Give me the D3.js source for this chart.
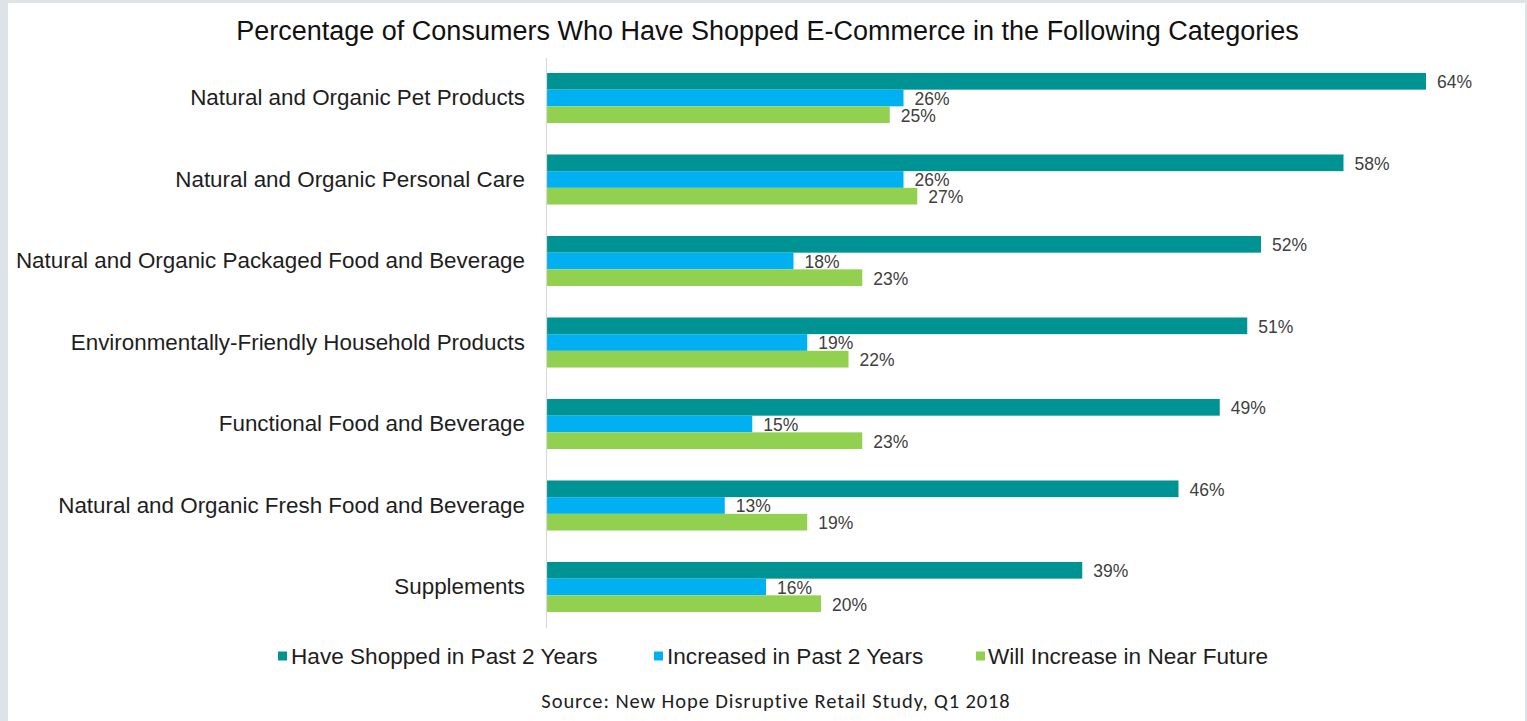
<!DOCTYPE html>
<html>
<head>
<meta charset="utf-8">
<script src="https://cdn.jsdelivr.net/npm/d3@7"></script>
<style>
  html, body { margin: 0; padding: 0; background: #dde3e7; }
  svg { display: block; }
</style>
</head>
<body>
<svg id="chart" width="1527" height="721"></svg>
<script>
// Survey categories, top to bottom
const categories = [
  "Natural and Organic Pet Products",
  "Natural and Organic Personal Care",
  "Natural and Organic Packaged Food and Beverage",
  "Environmentally-Friendly Household Products",
  "Functional Food and Beverage",
  "Natural and Organic Fresh Food and Beverage",
  "Supplements"
];

const seriesNames = [
  "Have Shopped in Past 2 Years",
  "Increased in Past 2 Years",
  "Will Increase in Near Future"
];

// Percent values per series, in category order
const haveShopped = [64, 58, 52, 51, 49, 46, 39];
const increased   = [26, 26, 18, 19, 15, 13, 16];
const willIncrease = [25, 27, 23, 22, 23, 19, 20];

const seriesColors = ["#009393", "#00b0f0", "#92d050"];

const titleText = "Percentage of Consumers Who Have Shopped E-Commerce in the Following Categories";
const sourceText = "Source: New Hope Disruptive Retail Study, Q1 2018";

const seriesValues = [haveShopped, increased, willIncrease];

const svg = d3.select("#chart");
const sans = "Liberation Sans, Arial, sans-serif";

// white panel
svg.append("rect")
  .attr("x", 8).attr("y", 3)
  .attr("width", 1517).attr("height", 718)
  .attr("fill", "#ffffff");

const x = d3.scaleLinear().domain([0, 70]).range([546, 1508.5]);

const y = d3.scaleBand()
  .domain(categories)
  .range([57.25, 627.75])
  .paddingInner(0.386)
  .paddingOuter(0.193);

const ySub = d3.scaleBand()
  .domain(d3.range(seriesNames.length))
  .range([0, y.bandwidth()]);

// title
svg.append("text")
  .attr("x", 767.5).attr("y", 31)
  .attr("text-anchor", "middle")
  .attr("dominant-baseline", "central")
  .attr("font-family", sans)
  .attr("font-size", 27)
  .attr("fill", "#111")
  .text(titleText);

// bars
const groups = svg.append("g").selectAll("g")
  .data(categories)
  .join("g")
  .attr("transform", d => `translate(0,${y(d)})`);

groups.selectAll("rect")
  .data((c, i) => seriesValues.map((vals, s) => ({ s, v: vals[i] })))
  .join("rect")
  .attr("x", x(0))
  .attr("y", d => ySub(d.s))
  .attr("width", d => x(d.v) - x(0))
  .attr("height", ySub.bandwidth())
  .attr("fill", d => seriesColors[d.s]);

// value labels to the right of each bar
groups.selectAll("text")
  .data((c, i) => seriesValues.map((vals, s) => ({ s, v: vals[i] })))
  .join("text")
  .attr("x", d => x(d.v) + 11)
  .attr("y", d => ySub(d.s) + ySub.bandwidth() / 2 + 1)
  .attr("dominant-baseline", "central")
  .attr("font-family", sans)
  .attr("font-size", 17.5)
  .attr("fill", "#404040")
  .text(d => d.v + "%");

// vertical category axis
const yAxis = d3.axisLeft(y).tickSize(0).tickPadding(21);
const axisG = svg.append("g")
  .attr("transform", `translate(${x(0)},0)`)
  .call(yAxis);
axisG.select(".domain").attr("stroke", "#d9d9d9").attr("stroke-width", 1.2);
axisG.selectAll(".tick text")
  .attr("font-family", sans)
  .attr("font-size", 22.4)
  .attr("fill", "#1e1e1e");

// legend
const legendItems = [
  { marker: 278, text: 291 },
  { marker: 654, text: 667 },
  { marker: 976, text: 988 }
];
const legend = svg.append("g");
legendItems.forEach((p, i) => {
  legend.append("rect")
    .attr("x", p.marker).attr("y", 651.5)
    .attr("width", 9).attr("height", 9)
    .attr("fill", seriesColors[i]);
  legend.append("text")
    .attr("x", p.text).attr("y", 656)
    .attr("dominant-baseline", "central")
    .attr("font-family", sans)
    .attr("font-size", 22.6)
    .attr("fill", "#1e1e1e")
    .text(seriesNames[i]);
});

// source note
svg.append("text")
  .attr("x", 776).attr("y", 701)
  .attr("text-anchor", "middle")
  .attr("dominant-baseline", "central")
  .attr("font-family", "Carlito, Calibri, Lato, sans-serif")
  .attr("font-size", 20.5)
  .attr("letter-spacing", 0.9)
  .attr("fill", "#1e1e1e")
  .text(sourceText);
</script>
</body>
</html>
